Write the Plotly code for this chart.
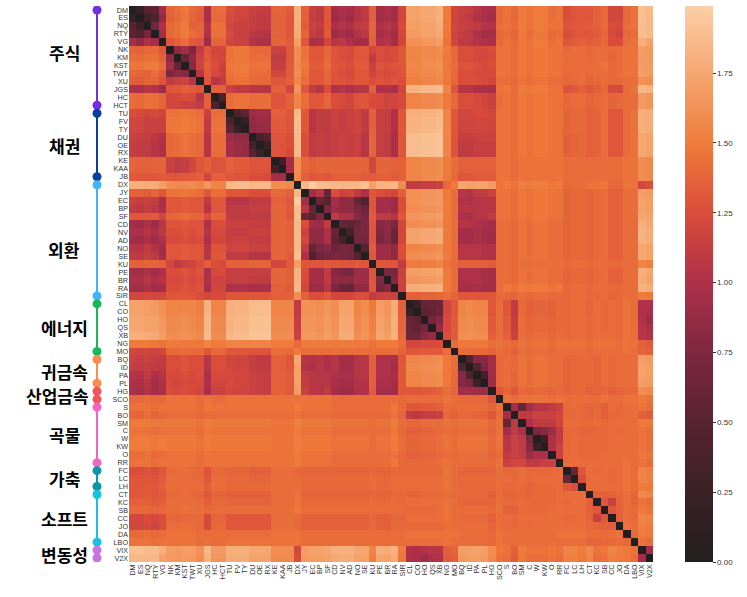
import numpy as np
import plotly.graph_objects as go

labels = ["DM", "ES", "NQ", "RTY", "VG", "NK", "KM", "KST", "TWT", "XU", "JGS", "HC", "HCT",
          "TU", "FV", "TY", "DU", "OE", "RX", "KE", "KAA", "JB",
          "DX", "JY", "EC", "BP", "SF", "CD", "NV", "AD", "NO", "SE", "KU", "PE", "BR", "RA", "SIR",
          "CL", "CO", "HO", "QS", "XB", "NG", "MO",
          "BQ", "ID", "PA", "PL",
          "HG", "SCO",
          "S", "BO", "SM", "C", "W", "KW", "O", "RR",
          "FC", "LC", "LH",
          "CT", "KC", "SB", "CC", "JO", "DA", "LBO",
          "VIX", "V2X"]

group_names = ["주식", "채권", "외환", "에너지", "귀금속", "산업금속", "곡물", "가축", "소프트", "변동성"]
group_sizes = [13, 9, 15, 7, 4, 2, 8, 3, 7, 2]
group_colors = ["#7030e4", "#0b3f9f", "#3fb5f7", "#18b75b", "#f98d4d",
                "#f1545a", "#f265c3", "#0b97a9", "#15c2df", "#c673e3"]

# distance matrix, upper triangle only (row i -> columns i+1 .. end)
# segments: rest of own group | bonds | DX | fx | energy | precious | ind.metals | grains | livestock | softs | vol
upper = [
    # equities
    "0.20 0.50 0.55 0.95 1.38 1.42 1.48 1.40 1.35 1.00 1.42 1.42 | 1.25 1.20 1.20 1.15 1.12 1.12 1.38 1.38 1.32 | 1.80 | 1.35 1.15 1.10 1.30 0.95 1.00 0.95 1.05 1.10 1.35 0.95 1.00 0.95 1.20 | 1.72 1.72 1.75 1.75 1.80 1.50 1.20 | 1.15 1.12 1.05 1.00 | 0.98 1.40 | 1.45 1.40 1.50 1.45 1.50 1.50 1.42 1.45 | 1.25 1.30 1.30 | 1.30 1.35 1.40 1.20 1.20 1.40 1.45 | 1.90 1.85",
    "0.30 0.45 0.85 1.36 1.40 1.46 1.38 1.33 0.98 1.40 1.40 | 1.22 1.18 1.18 1.12 1.10 1.10 1.36 1.36 1.30 | 1.80 | 1.35 1.12 1.08 1.30 0.92 0.98 0.92 1.02 1.08 1.35 0.93 0.98 0.93 1.18 | 1.72 1.72 1.75 1.75 1.80 1.50 1.18 | 1.12 1.10 1.02 0.98 | 0.95 1.40 | 1.45 1.38 1.50 1.45 1.50 1.50 1.42 1.45 | 1.25 1.28 1.30 | 1.30 1.35 1.40 1.20 1.20 1.40 1.45 | 1.90 1.85",
    "0.70 1.00 1.40 1.44 1.50 1.35 1.38 1.05 1.44 1.44 | 1.20 1.15 1.15 1.12 1.10 1.10 1.36 1.36 1.30 | 1.78 | 1.32 1.15 1.12 1.30 1.00 1.05 1.00 1.10 1.12 1.38 1.00 1.05 1.00 1.22 | 1.70 1.70 1.72 1.72 1.78 1.50 1.20 | 1.15 1.12 1.10 1.05 | 1.02 1.42 | 1.45 1.42 1.50 1.45 1.50 1.50 1.45 1.45 | 1.28 1.30 1.32 | 1.32 1.35 1.40 1.25 1.22 1.42 1.45 | 1.88 1.85",
    "0.95 1.40 1.44 1.50 1.42 1.38 1.02 1.44 1.44 | 1.22 1.15 1.15 1.08 1.05 1.05 1.36 1.36 1.30 | 1.78 | 1.38 1.12 1.08 1.32 0.92 0.98 0.92 1.02 1.08 1.38 0.95 1.00 0.95 1.20 | 1.68 1.68 1.72 1.72 1.76 1.48 1.18 | 1.12 1.10 1.00 0.95 | 0.95 1.40 | 1.42 1.38 1.48 1.42 1.48 1.48 1.40 1.42 | 1.25 1.28 1.30 | 1.30 1.32 1.38 1.22 1.18 1.40 1.42 | 1.88 1.85",
    "1.30 1.35 1.42 1.32 1.28 0.90 1.38 1.38 | 1.20 1.15 1.15 1.02 1.00 1.00 1.38 1.38 1.32 | 1.70 | 1.30 0.98 1.00 1.20 1.05 1.08 1.00 0.95 0.95 1.35 1.00 1.05 0.95 1.20 | 1.62 1.62 1.66 1.66 1.70 1.45 1.20 | 1.10 1.08 1.05 1.00 | 0.98 1.40 | 1.45 1.40 1.48 1.45 1.50 1.50 1.42 1.45 | 1.30 1.32 1.35 | 1.32 1.35 1.40 1.25 1.25 1.42 1.45 | 1.80 1.72",
    "0.85 0.95 0.75 1.10 1.30 1.20 1.20 | 1.45 1.48 1.48 1.40 1.40 1.40 1.15 1.15 1.30 | 1.60 | 1.45 1.30 1.30 1.38 1.28 1.25 1.22 1.30 1.30 1.20 1.25 1.22 1.25 1.30 | 1.55 1.55 1.58 1.58 1.60 1.50 1.40 | 1.25 1.25 1.22 1.22 | 1.25 1.45 | 1.45 1.42 1.48 1.45 1.48 1.48 1.45 1.45 | 1.40 1.42 1.42 | 1.40 1.42 1.42 1.40 1.42 1.45 1.45 | 1.70 1.68",
    "0.60 0.85 1.15 1.30 1.22 1.20 | 1.45 1.48 1.48 1.42 1.42 1.42 1.10 1.10 1.30 | 1.58 | 1.45 1.30 1.30 1.40 1.28 1.25 1.22 1.30 1.30 1.10 1.25 1.22 1.25 1.30 | 1.55 1.55 1.58 1.58 1.60 1.48 1.40 | 1.25 1.25 1.22 1.20 | 1.22 1.45 | 1.45 1.42 1.48 1.45 1.48 1.48 1.45 1.45 | 1.42 1.42 1.42 | 1.40 1.42 1.42 1.38 1.42 1.45 1.45 | 1.68 1.66",
    "0.80 1.18 1.35 1.25 1.15 | 1.48 1.50 1.50 1.45 1.45 1.45 1.12 1.12 1.32 | 1.58 | 1.48 1.32 1.32 1.42 1.30 1.28 1.25 1.32 1.32 1.15 1.28 1.25 1.28 1.30 | 1.56 1.56 1.60 1.60 1.62 1.48 1.42 | 1.28 1.28 1.25 1.22 | 1.25 1.45 | 1.45 1.42 1.48 1.45 1.48 1.48 1.45 1.45 | 1.42 1.42 1.42 | 1.42 1.42 1.45 1.40 1.42 1.45 1.45 | 1.70 1.68",
    "1.05 1.32 1.22 1.15 | 1.45 1.48 1.48 1.42 1.42 1.42 1.20 1.20 1.32 | 1.60 | 1.45 1.30 1.30 1.38 1.28 1.25 1.22 1.30 1.30 1.18 1.25 1.22 1.25 1.28 | 1.55 1.55 1.58 1.58 1.60 1.48 1.40 | 1.25 1.25 1.22 1.22 | 1.22 1.45 | 1.45 1.42 1.48 1.45 1.48 1.48 1.45 1.45 | 1.40 1.42 1.42 | 1.40 1.42 1.42 1.40 1.42 1.45 1.45 | 1.70 1.68",
    "1.30 1.05 1.10 | 1.42 1.45 1.45 1.40 1.40 1.40 1.30 1.30 1.35 | 1.55 | 1.42 1.30 1.30 1.38 1.28 1.28 1.25 1.30 1.30 1.25 1.28 1.25 1.28 1.25 | 1.52 1.52 1.55 1.55 1.58 1.48 1.40 | 1.25 1.25 1.25 1.22 | 1.20 1.42 | 1.42 1.40 1.45 1.42 1.45 1.45 1.42 1.42 | 1.40 1.40 1.42 | 1.38 1.40 1.42 1.40 1.40 1.42 1.42 | 1.62 1.60",
    "1.35 1.35 | 1.15 1.10 1.10 1.05 1.05 1.05 1.35 1.35 1.20 | 1.65 | 1.30 1.10 1.05 1.25 1.00 1.05 1.00 1.05 1.05 1.35 1.00 1.02 0.98 1.20 | 1.82 1.82 1.85 1.85 1.88 1.55 1.30 | 1.05 1.05 1.00 1.00 | 0.98 1.45 | 1.48 1.42 1.50 1.48 1.50 1.50 1.45 1.45 | 1.28 1.30 1.35 | 1.30 1.35 1.40 1.22 1.22 1.42 1.45 | 1.85 1.82",
    "0.40 | 1.42 1.45 1.45 1.42 1.42 1.42 1.28 1.28 1.35 | 1.55 | 1.42 1.30 1.30 1.38 1.25 1.22 1.20 1.28 1.30 1.25 1.22 1.18 1.20 1.22 | 1.55 1.55 1.58 1.58 1.60 1.50 1.40 | 1.25 1.25 1.22 1.20 | 1.15 1.42 | 1.45 1.42 1.48 1.45 1.48 1.48 1.45 1.45 | 1.40 1.42 1.42 | 1.38 1.40 1.42 1.38 1.40 1.42 1.42 | 1.68 1.65",
    "1.42 1.45 1.45 1.42 1.42 1.42 1.28 1.28 1.35 | 1.55 | 1.42 1.30 1.30 1.38 1.25 1.22 1.20 1.28 1.30 1.22 1.22 1.18 1.20 1.22 | 1.55 1.55 1.58 1.58 1.60 1.50 1.40 | 1.25 1.25 1.22 1.20 | 1.15 1.42 | 1.45 1.42 1.48 1.45 1.48 1.48 1.45 1.45 | 1.40 1.42 1.42 | 1.38 1.40 1.42 1.38 1.40 1.42 1.42 | 1.68 1.65",
    # bonds
    "0.40 0.55 0.90 0.95 0.95 1.35 1.35 1.30 | 1.85 | 1.30 1.05 1.10 1.10 1.15 1.12 1.15 1.18 1.10 1.35 1.12 1.12 1.00 1.30 | 1.80 1.80 1.82 1.82 1.85 1.55 1.30 | 1.20 1.20 1.22 1.22 | 1.20 1.45 | 1.45 1.42 1.48 1.45 1.48 1.48 1.45 1.45 | 1.38 1.40 1.40 | 1.35 1.38 1.42 1.30 1.30 1.42 1.45 | 1.80 1.78",
    "0.20 0.85 0.90 0.90 1.32 1.32 1.28 | 1.88 | 1.30 1.05 1.10 1.10 1.15 1.12 1.15 1.18 1.10 1.35 1.12 1.12 1.00 1.30 | 1.82 1.82 1.85 1.85 1.88 1.55 1.30 | 1.18 1.18 1.20 1.20 | 1.18 1.45 | 1.45 1.42 1.48 1.45 1.48 1.48 1.45 1.45 | 1.38 1.40 1.40 | 1.35 1.38 1.42 1.30 1.30 1.42 1.45 | 1.80 1.78",
    "0.85 0.88 0.88 1.32 1.32 1.28 | 1.88 | 1.30 1.05 1.10 1.10 1.15 1.12 1.15 1.18 1.10 1.35 1.12 1.12 1.00 1.30 | 1.82 1.82 1.85 1.85 1.88 1.55 1.30 | 1.18 1.18 1.20 1.20 | 1.18 1.45 | 1.45 1.42 1.48 1.45 1.48 1.48 1.45 1.45 | 1.38 1.40 1.40 | 1.35 1.38 1.42 1.30 1.30 1.42 1.45 | 1.80 1.78",
    "0.35 0.50 1.28 1.28 1.25 | 1.85 | 1.25 1.10 1.12 1.10 1.12 1.15 1.12 1.15 1.05 1.38 1.12 1.10 0.98 1.30 | 1.88 1.88 1.90 1.90 1.92 1.55 1.28 | 1.12 1.12 1.15 1.15 | 1.15 1.45 | 1.45 1.42 1.48 1.45 1.48 1.48 1.45 1.45 | 1.35 1.38 1.40 | 1.35 1.38 1.42 1.30 1.30 1.42 1.45 | 1.75 1.72",
    "0.25 1.28 1.28 1.25 | 1.85 | 1.25 1.10 1.12 1.10 1.12 1.15 1.12 1.15 1.05 1.38 1.12 1.10 0.98 1.30 | 1.88 1.88 1.90 1.90 1.92 1.55 1.28 | 1.10 1.10 1.12 1.12 | 1.12 1.45 | 1.45 1.42 1.48 1.45 1.48 1.48 1.45 1.45 | 1.35 1.38 1.40 | 1.35 1.38 1.42 1.30 1.30 1.42 1.45 | 1.75 1.72",
    "1.28 1.28 1.22 | 1.85 | 1.25 1.10 1.12 1.10 1.12 1.15 1.12 1.15 1.05 1.38 1.12 1.10 0.98 1.30 | 1.88 1.88 1.90 1.90 1.92 1.55 1.28 | 1.10 1.10 1.12 1.12 | 1.12 1.45 | 1.45 1.42 1.48 1.45 1.48 1.48 1.45 1.45 | 1.35 1.38 1.40 | 1.35 1.38 1.42 1.30 1.30 1.42 1.45 | 1.75 1.72",
    "0.30 0.95 | 1.60 | 1.40 1.35 1.38 1.38 1.38 1.38 1.38 1.38 1.38 1.20 1.38 1.38 1.35 1.35 | 1.55 1.55 1.58 1.58 1.60 1.50 1.42 | 1.35 1.35 1.35 1.35 | 1.35 1.45 | 1.45 1.42 1.45 1.45 1.45 1.45 1.45 1.45 | 1.42 1.42 1.42 | 1.42 1.42 1.42 1.42 1.42 1.45 1.45 | 1.60 1.58",
    "0.95 | 1.60 | 1.40 1.35 1.38 1.38 1.38 1.38 1.38 1.38 1.38 1.20 1.38 1.38 1.35 1.35 | 1.55 1.55 1.58 1.58 1.60 1.50 1.42 | 1.35 1.35 1.35 1.35 | 1.35 1.45 | 1.45 1.42 1.45 1.45 1.45 1.45 1.45 1.45 | 1.42 1.42 1.42 | 1.42 1.42 1.42 1.42 1.42 1.45 1.45 | 1.60 1.58",
    "1.58 | 1.35 1.30 1.32 1.30 1.35 1.35 1.35 1.35 1.32 1.32 1.35 1.35 1.32 1.35 | 1.55 1.55 1.58 1.58 1.60 1.50 1.40 | 1.30 1.30 1.32 1.32 | 1.32 1.45 | 1.45 1.42 1.45 1.45 1.45 1.45 1.45 1.45 | 1.42 1.42 1.42 | 1.42 1.42 1.42 1.42 1.42 1.45 1.45 | 1.60 1.58",
    # fx
    "1.85 1.97 1.88 1.88 1.85 1.85 1.85 1.85 1.90 1.70 1.82 1.82 1.85 1.60 | 1.10 1.10 1.12 1.12 1.15 1.40 1.50 | 1.75 1.72 1.72 1.72 | 1.68 1.45 | 1.50 1.45 1.52 1.50 1.52 1.52 1.48 1.50 | 1.40 1.42 1.42 | 1.45 1.45 1.48 1.40 1.40 1.45 1.45 | 1.20 1.25",
    "0.95 1.05 0.60 1.25 1.15 1.20 1.10 1.00 1.30 1.25 1.22 1.20 1.35 | 1.62 1.62 1.65 1.65 1.68 1.50 1.42 | 1.05 1.02 1.10 1.10 | 1.15 1.45 | 1.45 1.42 1.48 1.45 1.48 1.48 1.45 1.45 | 1.38 1.40 1.40 | 1.38 1.40 1.42 1.35 1.35 1.42 1.42 | 1.70 1.68",
    "0.60 0.50 0.95 0.85 0.85 0.60 0.45 1.30 0.95 0.95 0.90 1.25 | 1.62 1.62 1.65 1.65 1.68 1.50 1.42 | 1.02 1.00 1.05 1.05 | 1.05 1.45 | 1.45 1.42 1.48 1.45 1.48 1.48 1.45 1.45 | 1.38 1.40 1.40 | 1.38 1.40 1.42 1.35 1.35 1.42 1.42 | 1.72 1.70",
    "0.75 0.90 0.85 0.85 0.75 0.65 1.30 0.95 0.95 0.90 1.25 | 1.60 1.60 1.62 1.62 1.65 1.50 1.42 | 1.05 1.05 1.05 1.05 | 1.05 1.45 | 1.45 1.42 1.48 1.45 1.48 1.48 1.45 1.45 | 1.38 1.40 1.40 | 1.38 1.40 1.42 1.35 1.35 1.42 1.42 | 1.72 1.70",
    "1.10 1.00 1.00 0.80 0.70 1.32 1.10 1.10 1.05 1.30 | 1.65 1.65 1.68 1.68 1.70 1.50 1.42 | 1.00 0.98 1.05 1.05 | 1.10 1.45 | 1.45 1.42 1.48 1.45 1.48 1.48 1.45 1.45 | 1.38 1.40 1.40 | 1.38 1.40 1.42 1.35 1.35 1.42 1.42 | 1.75 1.72",
    "0.60 0.55 0.65 0.75 1.30 0.80 0.85 0.75 1.20 | 1.60 1.60 1.62 1.62 1.65 1.48 1.42 | 1.05 1.05 1.00 0.98 | 0.95 1.42 | 1.42 1.40 1.45 1.42 1.45 1.45 1.42 1.42 | 1.38 1.40 1.40 | 1.38 1.40 1.42 1.35 1.35 1.42 1.42 | 1.80 1.75",
    "0.35 0.70 0.72 1.30 0.75 0.85 0.62 1.20 | 1.72 1.72 1.75 1.75 1.78 1.50 1.42 | 0.95 0.95 0.98 0.95 | 0.92 1.42 | 1.42 1.40 1.45 1.42 1.45 1.45 1.42 1.42 | 1.38 1.40 1.40 | 1.38 1.40 1.42 1.35 1.35 1.42 1.42 | 1.82 1.78",
    "0.68 0.70 1.28 0.72 0.82 0.60 1.20 | 1.72 1.72 1.75 1.75 1.78 1.50 1.42 | 0.95 0.95 0.98 0.95 | 0.90 1.42 | 1.42 1.40 1.45 1.42 1.45 1.45 1.42 1.42 | 1.38 1.40 1.40 | 1.38 1.40 1.42 1.35 1.35 1.42 1.42 | 1.82 1.78",
    "0.50 1.32 0.90 0.92 0.85 1.25 | 1.55 1.55 1.58 1.58 1.60 1.48 1.42 | 1.05 1.05 1.05 1.02 | 1.00 1.42 | 1.42 1.40 1.45 1.42 1.45 1.45 1.42 1.42 | 1.38 1.40 1.40 | 1.38 1.40 1.42 1.35 1.35 1.42 1.42 | 1.75 1.72",
    "1.30 0.90 0.92 0.85 1.25 | 1.60 1.60 1.62 1.62 1.65 1.50 1.42 | 1.05 1.05 1.05 1.02 | 1.00 1.42 | 1.42 1.40 1.45 1.42 1.45 1.45 1.42 1.42 | 1.38 1.40 1.40 | 1.38 1.40 1.42 1.35 1.35 1.42 1.42 | 1.75 1.72",
    "1.30 1.30 1.30 1.10 | 1.50 1.50 1.52 1.52 1.55 1.45 1.42 | 1.35 1.35 1.35 1.35 | 1.32 1.42 | 1.42 1.40 1.42 1.42 1.42 1.42 1.42 1.42 | 1.40 1.42 1.42 | 1.40 1.42 1.42 1.40 1.40 1.42 1.42 | 1.55 1.52",
    "0.75 0.70 1.15 | 1.70 1.70 1.72 1.72 1.75 1.50 1.42 | 1.00 1.00 1.00 0.98 | 0.95 1.42 | 1.42 1.40 1.45 1.42 1.45 1.45 1.42 1.42 | 1.38 1.40 1.40 | 1.38 1.40 1.42 1.35 1.35 1.42 1.42 | 1.80 1.75",
    "0.78 1.15 | 1.65 1.65 1.68 1.68 1.70 1.50 1.42 | 1.00 1.00 1.00 0.98 | 0.95 1.42 | 1.42 1.40 1.45 1.42 1.45 1.45 1.42 1.42 | 1.38 1.40 1.40 | 1.38 1.40 1.42 1.35 1.35 1.42 1.42 | 1.78 1.72",
    "1.15 | 1.78 1.78 1.80 1.80 1.82 1.50 1.42 | 0.98 0.95 0.98 0.95 | 0.95 1.42 | 1.48 1.45 1.50 1.48 1.50 1.50 1.45 1.48 | 1.40 1.42 1.42 | 1.40 1.42 1.42 1.40 1.40 1.42 1.42 | 1.82 1.78",
    "1.35 1.35 1.38 1.38 1.40 1.42 1.38 | 1.30 1.30 1.30 1.30 | 1.30 1.40 | 1.40 1.38 1.42 1.40 1.42 1.42 1.40 1.40 | 1.40 1.42 1.42 | 1.40 1.40 1.42 1.38 1.40 1.42 1.42 | 1.50 1.48",
    # energy
    "0.25 0.60 0.60 0.65 1.20 1.30 | 1.55 1.58 1.55 1.55 | 1.30 1.42 | 1.30 1.10 1.40 1.35 1.38 1.38 1.35 1.40 | 1.40 1.42 1.42 | 1.38 1.42 1.40 1.42 1.40 1.45 1.42 | 1.02 1.00",
    "0.55 0.58 0.65 1.20 1.30 | 1.55 1.58 1.55 1.55 | 1.30 1.42 | 1.30 1.08 1.40 1.35 1.38 1.38 1.35 1.40 | 1.40 1.42 1.42 | 1.38 1.42 1.40 1.42 1.40 1.45 1.42 | 1.00 0.98",
    "0.70 0.80 1.22 1.32 | 1.58 1.60 1.58 1.58 | 1.32 1.42 | 1.32 1.12 1.42 1.38 1.40 1.40 1.38 1.40 | 1.40 1.42 1.42 | 1.40 1.42 1.40 1.42 1.40 1.45 1.42 | 1.02 0.92",
    "0.88 1.22 1.32 | 1.58 1.60 1.58 1.58 | 1.32 1.42 | 1.32 1.12 1.42 1.38 1.40 1.40 1.38 1.40 | 1.40 1.42 1.42 | 1.40 1.42 1.40 1.42 1.40 1.45 1.42 | 1.05 1.00",
    "1.25 1.32 | 1.60 1.62 1.60 1.60 | 1.35 1.42 | 1.35 1.15 1.42 1.40 1.42 1.42 1.40 1.42 | 1.40 1.42 1.42 | 1.40 1.42 1.42 1.42 1.40 1.45 1.42 | 1.05 1.02",
    "1.42 | 1.48 1.48 1.48 1.48 | 1.42 1.45 | 1.42 1.40 1.45 1.42 1.45 1.45 1.42 1.45 | 1.45 1.45 1.45 | 1.42 1.45 1.45 1.45 1.42 1.45 1.45 | 1.35 1.32",
    "1.42 1.42 1.40 1.40 | 1.38 1.42 | 1.40 1.35 1.42 1.40 1.42 1.42 1.40 1.42 | 1.42 1.42 1.42 | 1.40 1.42 1.42 1.42 1.42 1.45 1.42 | 1.38 1.35",
    # precious metals
    "0.45 0.80 0.80 | 0.95 1.40 | 1.42 1.40 1.45 1.42 1.45 1.45 1.42 1.42 | 1.38 1.40 1.40 | 1.40 1.38 1.42 1.40 1.42 1.42 1.42 | 1.70 1.68",
    "0.45 0.75 | 0.95 1.40 | 1.42 1.40 1.45 1.42 1.45 1.45 1.42 1.42 | 1.38 1.40 1.40 | 1.40 1.38 1.42 1.40 1.42 1.42 1.42 | 1.72 1.70",
    "0.30 | 0.92 1.40 | 1.42 1.38 1.45 1.42 1.45 1.45 1.42 1.42 | 1.38 1.40 1.40 | 1.40 1.38 1.42 1.40 1.42 1.42 1.42 | 1.72 1.70",
    "0.90 1.40 | 1.42 1.38 1.45 1.42 1.45 1.45 1.42 1.42 | 1.38 1.40 1.40 | 1.40 1.38 1.42 1.40 1.42 1.42 1.42 | 1.70 1.68",
    # industrial metals
    "1.30 | 1.38 1.30 1.40 1.38 1.40 1.40 1.38 1.40 | 1.38 1.40 1.40 | 1.35 1.38 1.40 1.35 1.38 1.40 1.40 | 1.60 1.58",
    "1.45 1.42 1.45 1.45 1.45 1.45 1.42 1.45 | 1.42 1.42 1.42 | 1.42 1.42 1.45 1.42 1.42 1.45 1.45 | 1.48 1.45",
    # grains
    "0.95 0.60 0.95 1.05 1.05 1.10 1.15 | 1.40 1.42 1.40 | 1.38 1.40 1.35 1.42 1.40 1.42 1.42 | 1.45 1.42",
    "1.10 1.10 1.15 1.15 1.15 1.20 | 1.40 1.40 1.40 | 1.38 1.40 1.35 1.40 1.40 1.42 1.42 | 1.35 1.32",
    "1.00 1.10 1.10 1.10 1.20 | 1.42 1.42 1.40 | 1.40 1.42 1.40 1.42 1.42 1.42 1.42 | 1.50 1.48",
    "0.75 0.80 0.90 1.10 | 1.40 1.40 1.38 | 1.38 1.40 1.40 1.42 1.40 1.42 1.42 | 1.45 1.42",
    "0.25 1.00 1.10 | 1.40 1.42 1.40 | 1.40 1.40 1.40 1.42 1.42 1.42 1.42 | 1.45 1.42",
    "1.00 1.15 | 1.40 1.42 1.40 | 1.40 1.40 1.40 1.42 1.42 1.42 1.42 | 1.45 1.42",
    "1.15 | 1.40 1.42 1.40 | 1.40 1.40 1.42 1.42 1.42 1.42 1.42 | 1.48 1.45",
    "1.42 1.42 1.42 | 1.42 1.42 1.42 1.42 1.42 1.45 1.42 | 1.45 1.42",
    # livestock
    "0.60 1.30 | 1.42 1.40 1.42 1.40 1.42 1.45 1.42 | 1.55 1.52",
    "1.25 | 1.42 1.42 1.42 1.40 1.42 1.45 1.42 | 1.55 1.52",
    "1.42 1.42 1.42 1.42 1.42 1.45 1.42 | 1.50 1.48",
    # softs
    "1.35 1.35 1.38 1.40 1.42 1.38 | 1.58 1.55",
    "1.30 1.15 1.38 1.42 1.38 | 1.45 1.42",
    "1.30 1.35 1.42 1.40 | 1.48 1.45",
    "1.35 1.42 1.40 | 1.55 1.52",
    "1.45 1.42 | 1.52 1.50",
    "1.40 | 1.50 1.48",
    "1.45 1.42",
    # volatility
    "0.95",
]

n = len(labels)
dist = np.zeros((n, n))
for i, row in enumerate(upper):
    vals = [float(v) for v in row.replace("|", " ").split()]
    assert len(vals) == n - 1 - i, (labels[i], len(vals), n - 1 - i)
    dist[i, i + 1:] = vals
    dist[i + 1:, i] = vals

colorscale = [
    [0.0, "#231f20"], [0.125, "#3a2126"], [0.25, "#572331"], [0.375, "#7d2741"],
    [0.5, "#ad3049"], [0.625, "#da4c3b"], [0.75, "#ee7a3a"], [0.875, "#f5a56f"],
    [1.0, "#fccfa6"],
]

plot_w = 747 - 129 - 94

fig = go.Figure()
fig.add_trace(go.Heatmap(
    z=dist, x=labels, y=labels,
    zmin=0, zmax=1.99,
    colorscale=colorscale,
    colorbar=dict(
        x=1.061, xanchor="left", xpad=0, y=0.5, yanchor="middle", ypad=0,
        len=1.0, thickness=28, outlinewidth=0,
        tickvals=[0, 0.25, 0.5, 0.75, 1.0, 1.25, 1.5, 1.75],
        tickformat=".2f", ticks="outside", ticklen=3, tickcolor="#333",
        tickfont=dict(family="Liberation Sans", size=8, color="#333"),
    ),
    hovertemplate="%{y} - %{x}: %{z:.2f}<extra></extra>",
))

# group brackets on the left: line + end dots + bold label
bracket_x = -32 / plot_w
starts = np.cumsum([0] + group_sizes[:-1])
for name, size, color, s in zip(group_names, group_sizes, group_colors, starts):
    e = int(s + size - 1)
    fig.add_shape(type="line", xref="paper", yref="y",
                  x0=bracket_x, x1=bracket_x, y0=int(s), y1=e,
                  line=dict(color=color, width=2))
    for k in (int(s), e):
        fig.add_shape(type="circle", xref="paper", yref="y",
                      xsizemode="pixel", ysizemode="pixel",
                      xanchor=bracket_x, yanchor=k,
                      x0=-4.5, x1=4.5, y0=-4.5, y1=4.5,
                      fillcolor=color, line=dict(color=color, width=0))
    mid = (s + e) / 2
    if name == "주식":
        mid -= 0.7
    if name == "외환":
        mid += 1.1
    if name == "산업금속":
        fig.add_annotation(x=(91 - 129) / plot_w, y=mid, xref="paper", yref="y",
                           text="<b>%s</b>" % name, showarrow=False, xanchor="right",
                           font=dict(family="Noto Sans CJK KR", size=17, color="black"))
    else:
        fig.add_annotation(x=(64 - 129) / plot_w, y=mid, xref="paper", yref="y",
                           text="<b>%s</b>" % name, showarrow=False, xanchor="center",
                           font=dict(family="Noto Sans CJK KR", size=17, color="black"))

fig.update_layout(
    width=747, height=597,
    margin=dict(l=129, r=94, t=6, b=35, autoexpand=False),
    paper_bgcolor="white", plot_bgcolor="white",
    xaxis=dict(tickangle=-90, tickfont=dict(family="Liberation Sans", size=7.2, color="#333"),
               ticks="", showgrid=False, zeroline=False, dtick=1, range=[-0.5, n - 0.5]),
    yaxis=dict(tickfont=dict(family="Liberation Sans", size=7.2, color="#333"),
               ticks="", showgrid=False, zeroline=False, dtick=1, range=[n - 0.5, -0.5]),
    showlegend=False,
)

fig.write_html("out.html", config={"displayModeBar": False},
               post_script="document.body.style.margin='0px';")
